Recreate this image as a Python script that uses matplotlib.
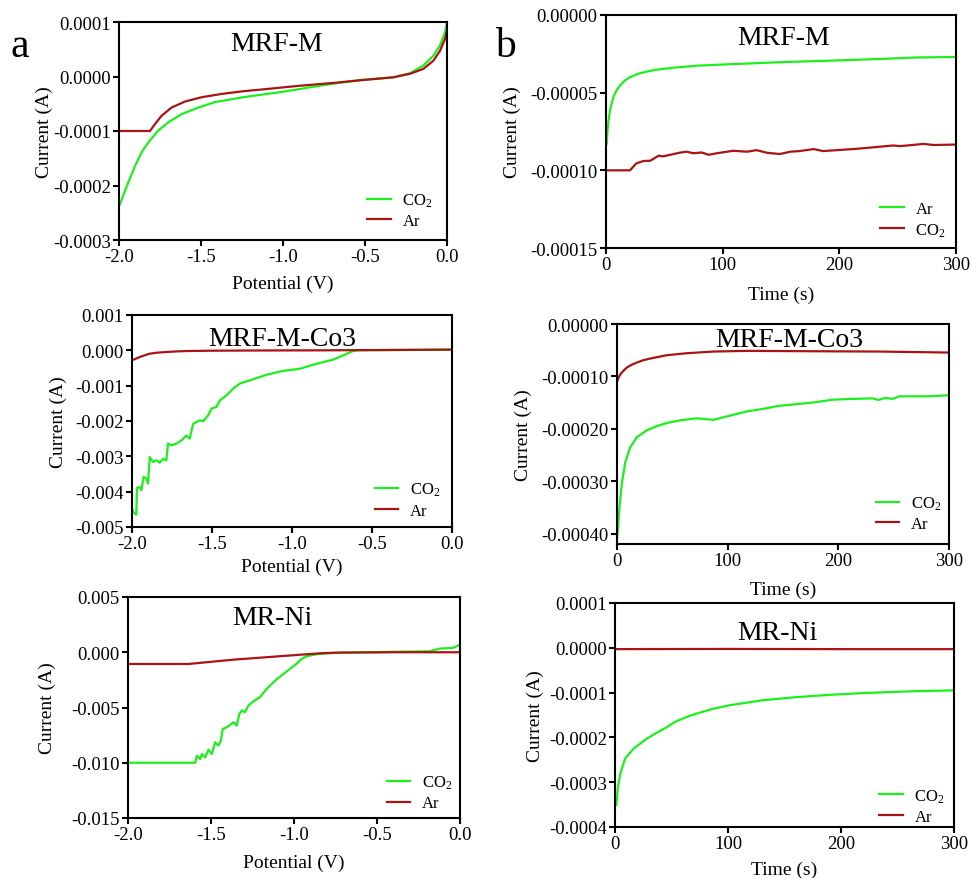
import numpy as np
import matplotlib
matplotlib.use('Agg')
import matplotlib.pyplot as plt
from matplotlib.ticker import FormatStrFormatter

plt.rcParams['font.family'] = ['Liberation Serif', 'DejaVu Serif']
plt.rcParams['mathtext.fontset'] = 'custom'
plt.rcParams['mathtext.rm'] = 'Liberation Serif'
plt.rcParams['axes.unicode_minus'] = False

GREEN = '#1cf01c'
RED = '#a81414'
CO2 = r'$\mathregular{CO_2}$'

# ---- (a) LSV data, potential (V) vs current (A) ----
# MRF-M
a1_co2_v = [-2.0, -1.994, -1.943, -1.902, -1.862, -1.821, -1.76, -1.699, -1.618, -1.516, -1.415, -1.242,
            -1.0, -0.736, -0.53, -0.327, -0.226, -0.144, -0.083, -0.043, -0.012, 0.0]
a1_co2_i = [-2.38e-4, -2.34e-4, -1.94e-4, -1.64e-4, -1.39e-4, -1.21e-4, -0.99e-4, -0.84e-4, -0.69e-4,
            -0.57e-4, -0.47e-4, -0.38e-4, -0.28e-4, -0.15e-4, -0.064e-4, -0.015e-4, 0.06e-4, 0.2e-4,
            0.38e-4, 0.57e-4, 0.81e-4, 0.99e-4]
a1_ar_v = [-2.0, -1.811, -1.78, -1.74, -1.68, -1.598, -1.496, -1.374, -1.242, -1.1, -0.9, -0.7, -0.53,
           -0.327, -0.226, -0.144, -0.083, -0.043, -0.012, 0.0]
a1_ar_i = [-1.0e-4, -1.0e-4, -0.87e-4, -0.72e-4, -0.57e-4, -0.46e-4, -0.38e-4, -0.32e-4, -0.27e-4,
           -0.23e-4, -0.17e-4, -0.12e-4, -0.07e-4, -0.015e-4, 0.05e-4, 0.14e-4, 0.29e-4, 0.47e-4,
           0.69e-4, 0.84e-4]

# MRF-M-Co3
a2_co2_v = [-2.0, -1.994, -1.973, -1.969, -1.952, -1.942, -1.927, -1.91, -1.9, -1.889, -1.868, -1.848, -1.827,
            -1.806, -1.785, -1.775, -1.754, -1.722, -1.691, -1.66, -1.639, -1.618, -1.597, -1.576, -1.556,
            -1.524, -1.503, -1.472, -1.451, -1.409, -1.367, -1.326, -1.263, -1.159, -1.054, -0.95, -0.846,
            -0.741, -0.679, -0.626, -0.595, -0.3, 0.0]
a2_co2_i = [-4.48e-3, -4.57e-3, -4.65e-3, -3.90e-3, -3.87e-3, -3.96e-3, -3.58e-3, -3.63e-3, -3.77e-3,
            -3.02e-3, -3.16e-3, -3.11e-3, -3.18e-3, -3.07e-3, -3.11e-3, -2.64e-3, -2.69e-3, -2.64e-3,
            -2.55e-3, -2.41e-3, -2.50e-3, -2.08e-3, -2.03e-3, -1.98e-3, -2.01e-3, -1.84e-3, -1.65e-3,
            -1.60e-3, -1.42e-3, -1.27e-3, -1.08e-3, -0.94e-3, -0.85e-3, -0.69e-3, -0.58e-3, -0.52e-3,
            -0.38e-3, -0.26e-3, -0.14e-3, -0.03e-3, 0.0, 0.01e-3, 0.02e-3]
a2_ar_v = [-2.0, -1.975, -1.952, -1.92, -1.889, -1.84, -1.785, -1.72, -1.66, -1.5, -1.2, -0.8, -0.4, 0.0]
a2_ar_i = [-0.28e-3, -0.235e-3, -0.19e-3, -0.14e-3, -0.094e-3, -0.065e-3, -0.047e-3, -0.03e-3, -0.02e-3,
           -0.01e-3, -0.004e-3, 0.0, 0.01e-3, 0.02e-3]

# MR-Ni
a3_co2_v = [-2.0, -1.595, -1.585, -1.565, -1.555, -1.535, -1.515, -1.495, -1.475, -1.455, -1.441, -1.429,
            -1.405, -1.385, -1.365, -1.345, -1.329, -1.315, -1.295, -1.275, -1.245, -1.205, -1.164, -1.104,
            -1.044, -0.984, -0.954, -0.924, -0.864, -0.764, -0.563, -0.182, -0.122, -0.042, 0.0]
a3_co2_i = [-10.0e-3, -10.0e-3, -9.36e-3, -9.67e-3, -9.21e-3, -9.52e-3, -8.82e-3, -9.21e-3, -8.15e-3,
            -8.45e-3, -8.0e-3, -6.94e-3, -6.79e-3, -6.58e-3, -6.33e-3, -6.64e-3, -5.58e-3, -5.27e-3,
            -5.42e-3, -4.82e-3, -4.45e-3, -4.06e-3, -3.30e-3, -2.44e-3, -1.74e-3, -1.03e-3, -0.6e-3,
            -0.36e-3, -0.18e-3, -0.06e-3, 0.0, 0.09e-3, 0.33e-3, 0.39e-3, 0.70e-3]
a3_ar_v = [-2.0, -1.635, -1.365, -1.004, -0.904, -0.824, -0.724, -0.4, 0.0]
a3_ar_i = [-1.06e-3, -1.06e-3, -0.67e-3, -0.27e-3, -0.16e-3, -0.08e-3, -0.03e-3, 0.0, 0.0]

# ---- (b) i-t data, time (s) vs current (A) ----
# MRF-M (legend order Ar green, CO2 red)
b1_ar_t = [0.6, 1.2, 2, 3.4, 5, 6.3, 9, 12, 16, 20.6, 27, 35, 42, 49, 60, 78, 106, 149, 192, 235, 264, 300]
b1_ar_i = [-8.29e-5, -7.5e-5, -6.9e-5, -6.15e-5, -5.65e-5, -5.29e-5, -4.85e-5, -4.54e-5, -4.23e-5,
           -4.0e-5, -3.8e-5, -3.64e-5, -3.54e-5, -3.47e-5, -3.38e-5, -3.26e-5, -3.17e-5, -3.04e-5,
           -2.94e-5, -2.83e-5, -2.74e-5, -2.70e-5]
b1_co2_t = [0, 20.6, 26, 32, 38, 45, 49, 55, 63.5, 69, 75, 82, 88, 95, 109, 121, 129, 138, 149, 158, 166,
            178, 186, 198, 212, 229, 246, 252, 264, 272, 281, 300]
b1_co2_i = [-1.0e-4, -1.0e-4, -0.955e-4, -0.94e-4, -0.938e-4, -0.906e-4, -0.91e-4, -0.90e-4, -0.886e-4,
            -0.88e-4, -0.89e-4, -0.885e-4, -0.90e-4, -0.89e-4, -0.874e-4, -0.88e-4, -0.87e-4, -0.887e-4,
            -0.895e-4, -0.88e-4, -0.876e-4, -0.863e-4, -0.876e-4, -0.87e-4, -0.863e-4, -0.852e-4,
            -0.84e-4, -0.844e-4, -0.836e-4, -0.83e-4, -0.837e-4, -0.834e-4]

# MRF-M-Co3
b2_co2_t = [0, 0.6, 2.4, 4.5, 7.5, 12, 18, 27, 36, 45, 57, 72, 87, 102, 117, 132, 147, 162, 177, 195, 213,
            231, 236, 243, 249, 255, 267, 282, 300]
b2_co2_i = [-4.06e-4, -3.97e-4, -3.46e-4, -3.02e-4, -2.64e-4, -2.35e-4, -2.16e-4, -2.03e-4, -1.95e-4,
            -1.89e-4, -1.84e-4, -1.80e-4, -1.83e-4, -1.75e-4, -1.67e-4, -1.62e-4, -1.56e-4, -1.53e-4,
            -1.50e-4, -1.445e-4, -1.43e-4, -1.42e-4, -1.45e-4, -1.41e-4, -1.43e-4, -1.38e-4, -1.38e-4,
            -1.38e-4, -1.36e-4]
b2_ar_t = [0, 1.5, 3, 6, 9, 13, 18, 24, 30, 45, 63, 87, 117, 177, 237, 300]
b2_ar_i = [-1.10e-4, -1.02e-4, -0.96e-4, -0.89e-4, -0.83e-4, -0.78e-4, -0.735e-4, -0.69e-4, -0.66e-4,
           -0.596e-4, -0.558e-4, -0.526e-4, -0.513e-4, -0.52e-4, -0.526e-4, -0.545e-4]

# MR-Ni
b3_co2_t = [1.2, 2.4, 4.7, 9, 16.5, 28, 38, 46, 52, 58, 65, 72, 87, 102, 131, 161, 190, 220, 264, 300]
b3_co2_i = [-3.51e-4, -3.14e-4, -2.81e-4, -2.47e-4, -2.25e-4, -2.03e-4, -1.88e-4, -1.77e-4, -1.67e-4,
            -1.60e-4, -1.53e-4, -1.47e-4, -1.36e-4, -1.28e-4, -1.17e-4, -1.10e-4, -1.05e-4, -1.01e-4,
            -0.97e-4, -0.95e-4]
b3_ar_t = [0, 100, 200, 300]
b3_ar_i = [-0.03e-4, -0.025e-4, -0.03e-4, -0.03e-4]

W, H = 972, 879
fig = plt.figure(figsize=(W / 100, H / 100), dpi=100)


def px_axes(left, top, right, bottom):
    return fig.add_axes([left / W, (H - bottom) / H, (right - left) / W, (bottom - top) / H])


def style(ax, xlim, xticks, xfmt, ylim, yticks, yfmt, xlabel, title, tpos, ylx, xly, legpos):
    ax.set_xlim(xlim)
    ax.set_ylim(ylim)
    ax.set_xticks(xticks)
    ax.set_yticks(yticks)
    ax.xaxis.set_major_formatter(FormatStrFormatter(xfmt))
    ax.yaxis.set_major_formatter(FormatStrFormatter(yfmt))
    ax.tick_params(direction='out', length=4, width=1.5, labelsize=13.5, pad=2,
                   top=False, right=False)
    for s in ax.spines.values():
        s.set_linewidth(1.5)
    ax.set_xlabel(xlabel, fontsize=14)
    ax.set_ylabel('Current (A)', fontsize=14)
    ax.xaxis.label.set_va('center')
    ax.yaxis.label.set_va('center')
    ax.xaxis.set_label_coords(0.5, xly)
    ax.yaxis.set_label_coords(ylx, 0.5)
    ax.text(tpos[0], tpos[1], title, transform=ax.transAxes, fontsize=20,
            ha='center', va='center')
    ax.legend(loc='lower right', bbox_to_anchor=legpos, frameon=False, fontsize=12,
              handlelength=1.4, handletextpad=0.7, labelspacing=0.25,
              borderpad=0, borderaxespad=0)


vticks = [-2.0, -1.5, -1.0, -0.5, 0.0]
tticks = [0, 100, 200, 300]

ax = px_axes(119, 23, 447, 241)
ax.plot(a1_co2_v, a1_co2_i, color=GREEN, lw=1.6, label=CO2)
ax.plot(a1_ar_v, a1_ar_i, color=RED, lw=1.6, label='Ar')
style(ax, (-2, 0), vticks, '%.1f', (-0.0003, 0.0001), [-0.0003, -0.0002, -0.0001, 0, 0.0001], '%.4f',
      'Potential (V)', 'MRF-M', (0.48, 0.90), -0.229, -0.20, (0.957, 0.05))

ax = px_axes(132, 316, 452, 528)
ax.plot(a2_co2_v, a2_co2_i, color=GREEN, lw=1.6, label=CO2)
ax.plot(a2_ar_v, a2_ar_i, color=RED, lw=1.6, label='Ar')
style(ax, (-2, 0), vticks, '%.1f', (-0.005, 0.001), [-0.005, -0.004, -0.003, -0.002, -0.001, 0, 0.001], '%.3f',
      'Potential (V)', 'MRF-M-Co3', (0.47, 0.887), -0.231, -0.184, (0.9625, 0.04))

ax = px_axes(128, 598, 460, 819)
ax.plot(a3_co2_v, a3_co2_i, color=GREEN, lw=1.6, label=CO2)
ax.plot(a3_ar_v, a3_ar_i, color=RED, lw=1.6, label='Ar')
style(ax, (-2, 0), vticks, '%.1f', (-0.015, 0.005), [-0.015, -0.010, -0.005, 0, 0.005], '%.3f',
      'Potential (V)', 'MR-Ni', (0.434, 0.905), -0.244, -0.20, (0.976, 0.03))

ax = px_axes(606, 16, 956, 249)
ax.plot(b1_ar_t, b1_ar_i, color=GREEN, lw=1.6, label='Ar')
ax.plot(b1_co2_t, b1_co2_i, color=RED, lw=1.6, label=CO2)
style(ax, (0, 300), tticks, '%d', (-0.00015, 0), [-0.00015, -0.0001, -0.00005, 0], '%.5f',
      'Time (s)', 'MRF-M', (0.506, 0.905), -0.269, -0.20, (0.971, 0.04))

ax = px_axes(617, 325, 949, 545)
ax.plot(b2_co2_t, b2_co2_i, color=GREEN, lw=1.6, label=CO2)
ax.plot(b2_ar_t, b2_ar_i, color=RED, lw=1.6, label='Ar')
style(ax, (0, 300), tticks, '%d', (-0.00042, 0), [-0.0004, -0.0003, -0.0002, -0.0001, 0], '%.5f',
      'Time (s)', 'MRF-M-Co3', (0.52, 0.93), -0.283, -0.205, (0.976, 0.055))

ax = px_axes(615, 604, 954, 828)
ax.plot(b3_co2_t, b3_co2_i, color=GREEN, lw=1.6, label=CO2)
ax.plot(b3_ar_t, b3_ar_i, color=RED, lw=1.6, label='Ar')
style(ax, (0, 300), tticks, '%d', (-0.0004, 0.0001), [-0.0004, -0.0003, -0.0002, -0.0001, 0, 0.0001], '%.4f',
      'Time (s)', 'MR-Ni', (0.48, 0.87), -0.236, -0.19, (0.973, 0.01))

fig.text(20 / W, 1 - 47 / H, 'a', fontsize=30, ha='center', va='center')
fig.text(505 / W, 1 - 47 / H, 'b', fontsize=30, ha='center', va='center')

plt.savefig('out.png', dpi=100)
